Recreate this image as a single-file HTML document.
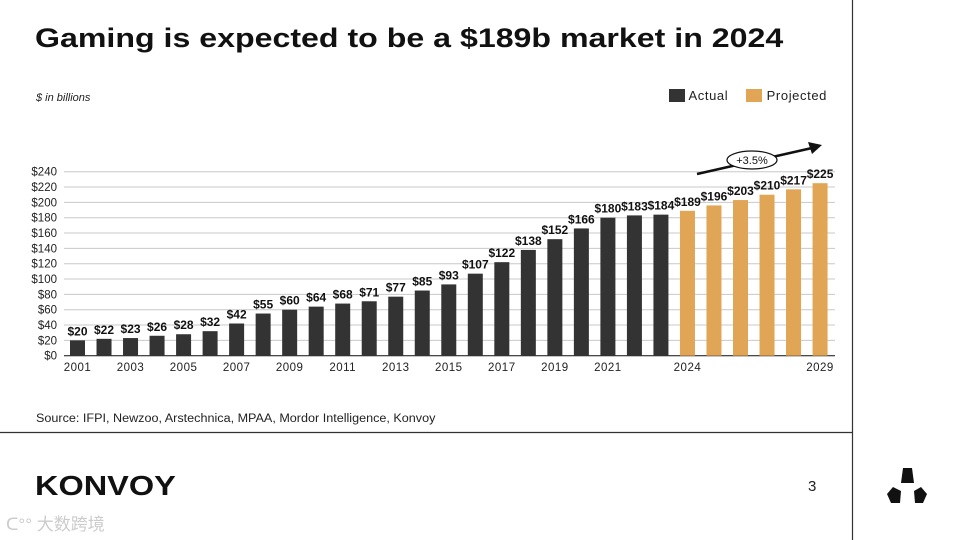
<!DOCTYPE html>
<html><head><meta charset="utf-8"><style>
body{margin:0;width:960px;height:540px;overflow:hidden;background:#fff;font-family:"Liberation Sans",sans-serif;position:relative}
.abs{position:absolute;white-space:nowrap}
</style></head><body>
<div class="abs" style="left:35px;top:23px;font-size:27px;font-weight:bold;color:#111;transform:scaleX(1.19);transform-origin:left top">Gaming is expected to be a $189b market in 2024</div>
<div class="abs" style="left:36px;top:92px;font-size:11px;font-style:italic;color:#222">$ in billions</div>
<div class="abs" style="left:669px;top:88px;font-size:13px;color:#222;letter-spacing:0.6px">
 <span><span style="display:inline-block;width:16px;height:13px;background:#333;vertical-align:-2px"></span> Actual</span>
 <span style="margin-left:14px"><span style="display:inline-block;width:16px;height:13px;background:#e0a555;vertical-align:-2px"></span> Projected</span>
</div>
<svg class="abs" style="left:0;top:0" width="960" height="540">
<g id="grid"></g><g id="bars"></g><g id="labels"></g>
<line x1="697" y1="174" x2="812" y2="148" stroke="#111" stroke-width="2.5"/>
<polygon points="822,145 808,142 812,154" fill="#111"/>
<ellipse cx="752" cy="160" rx="25" ry="9" fill="#fff" stroke="#111" stroke-width="1.2"/>
<text x="752" y="164" font-size="11" text-anchor="middle" font-family="Liberation Sans" fill="#111">+3.5%</text>
<line x1="0" y1="432.5" x2="852" y2="432.5" stroke="#333" stroke-width="1.2"/>
<line x1="852.5" y1="0" x2="852.5" y2="540" stroke="#333" stroke-width="1.2"/>
<g fill="#111">
<polygon points="903,468 912,468 914,483 901,483"/>
<polygon points="887,494 893,487 901,491 900,503 891,503"/>
<polygon points="914,491 921,487 927,494 923,503 915,503"/>
</g>
</svg>
<div class="abs" style="left:36px;top:413px;font-size:11.5px;color:#222;transform:scaleX(1.095);transform-origin:left top">Source: IFPI, Newzoo, Arstechnica, MPAA, Mordor Intelligence, Konvoy</div>
<div class="abs" style="left:35px;top:470px;font-size:28px;font-weight:bold;color:#111;transform:scaleX(1.16);transform-origin:left top">KONVOY</div>
<div class="abs" style="left:808px;top:478px;font-size:15px;color:#222">3</div>
<div class="abs" style="left:6px;top:510px;font-size:17px;color:#ccc;font-family:'Liberation Sans','Noto Sans CJK SC',sans-serif">ᑕ°° 大数跨境</div>
<script>
const years=[2001,2002,2003,2004,2005,2006,2007,2008,2009,2010,2011,2012,2013,2014,2015,2016,2017,2018,2019,2020,2021,2022,2023,2024,2025,2026,2027,2028,2029];
const values=[20,22,23,26,28,32,42,55,60,64,68,71,77,85,93,107,122,138,152,166,180,183,184,189,196,203,210,217,225];
const projectedFrom=2024;
const yTicks=[0,20,40,60,80,100,120,140,160,180,200,220,240];
const xTickLabels=[2001,2003,2005,2007,2009,2011,2013,2015,2017,2019,2021,2024,2029];
const NS="http://www.w3.org/2000/svg";
const y=v=>355.7-v*(184/240);
const x=yr=>77.5+(yr-2001)*26.52;
function mk(t,a,p){const e=document.createElementNS(NS,t);for(const k in a)e.setAttribute(k,a[k]);p.appendChild(e);return e;}
const grid=document.getElementById('grid'),bars=document.getElementById('bars'),labels=document.getElementById('labels');
yTicks.forEach(t=>{
 const l=mk('line',{x1:64,x2:835,y1:y(t),y2:y(t),stroke:'#c8c8c8','stroke-width':1},grid);
 
 
 const tx=mk('text',{x:57,y:y(t)+4,'font-size':11.5,'text-anchor':'end',fill:'#222','font-family':'Liberation Sans'},grid);
 tx.textContent='$'+t;
 
 
});
mk('line',{x1:64,x2:835,y1:y(0),y2:y(0),stroke:'#333','stroke-width':1.2},grid);
years.forEach((yr,i)=>{
 const v=values[i];
 const r=mk('rect',{x:x(yr)-7.5,y:y(v),width:15,height:y(0)-y(v),fill:yr>=projectedFrom?'#e0a555':'#333'},bars);
 
 
 const t=mk('text',{x:x(yr),y:y(v)-5,'font-size':12,'font-weight':'bold','text-anchor':'middle',fill:'#111','font-family':'Liberation Sans'},labels);
 t.textContent='$'+v;
 
 
});
xTickLabels.forEach(yr=>{
 const t=mk('text',{x:x(yr),y:371,'font-size':11.5,'text-anchor':'middle',fill:'#222','font-family':'Liberation Sans','letter-spacing':'0.5'},grid);
 t.textContent=yr;
 
 
});
</script>
</body></html>
